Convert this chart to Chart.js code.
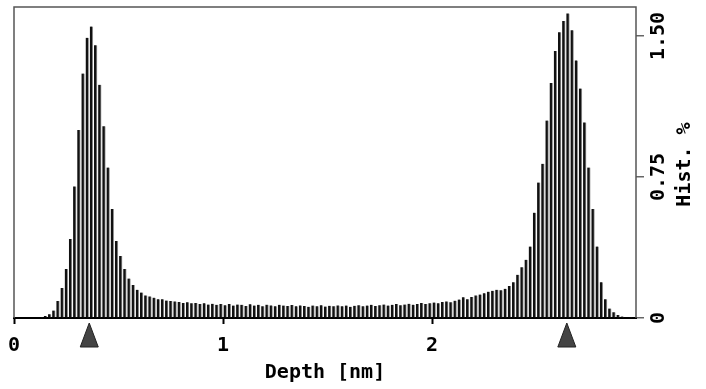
<!DOCTYPE html>
<html>
<head>
<meta charset="utf-8">
<script src="https://cdn.jsdelivr.net/npm/chart.js@4"></script>
<style>
  html, body { margin: 0; padding: 0; background: #fff; }
  #wrap { width: 706px; height: 389px; }
</style>
</head>
<body>
<div id="wrap"><canvas id="histChart" width="706" height="389"></canvas></div>
<script>
// Depth histogram, bins of 0.02 nm starting at 0.13 nm
const FIRST_BIN = 0.13;
const BIN_WIDTH = 0.02;
const histValues = [
  0.005, 0.01, 0.02, 0.04, 0.09, 0.16, 0.26, 0.42, 0.70, 1.00,
  1.30, 1.49, 1.55, 1.45, 1.24, 1.02, 0.80, 0.58, 0.41, 0.33,
  0.26, 0.21, 0.175, 0.15, 0.135, 0.12, 0.115, 0.108, 0.10, 0.10,
  0.093, 0.09, 0.088, 0.085, 0.08, 0.084, 0.078, 0.08, 0.075, 0.078,
  0.072, 0.076, 0.07, 0.074, 0.068, 0.075, 0.066, 0.072, 0.07, 0.064,
  0.073, 0.066, 0.07, 0.063, 0.071, 0.067, 0.062, 0.07, 0.066, 0.064,
  0.069, 0.062, 0.067, 0.064, 0.06, 0.066, 0.063, 0.068, 0.061, 0.065,
  0.062, 0.067, 0.063, 0.066, 0.06, 0.065, 0.068, 0.063, 0.066, 0.07,
  0.064, 0.068, 0.072, 0.066, 0.07, 0.074, 0.068, 0.072, 0.076, 0.071,
  0.075, 0.08, 0.074, 0.078, 0.082, 0.078, 0.085, 0.088, 0.084, 0.092,
  0.098, 0.11, 0.10, 0.112, 0.12, 0.125, 0.132, 0.14, 0.145, 0.15,
  0.148, 0.155, 0.17, 0.19, 0.23, 0.27, 0.31, 0.38, 0.56, 0.72,
  0.82, 1.05, 1.25, 1.42, 1.52, 1.58, 1.62, 1.53, 1.37, 1.22,
  1.04, 0.80, 0.58, 0.38, 0.19, 0.10, 0.05, 0.03, 0.016, 0.008,
  0.004, 0.002
];
const depthBins = histValues.map((_, i) => +(FIRST_BIN + i * BIN_WIDTH).toFixed(2));

const xTicks = [0, 1, 2];
const yTicks = [0, 0.75, 1.5];
const yTickLabels = ["0", "0.75", "1.50"];
const peakMarkers = [0.36, 2.645];

const X_MAX = 2.976;
const Y_MAX = 1.654;
const FONT = "'DejaVu Sans Mono', monospace";

// ── Frame, tick marks, rotated right-hand labels and peak triangles ─────

const decorPlugin = {
  id: "decor",
  beforeDatasetsDraw(chart) {
    const { ctx, chartArea: a } = chart;
    ctx.save();
    ctx.strokeStyle = "#555";
    ctx.lineWidth = 1.5;
    ctx.beginPath();
    ctx.moveTo(a.left, a.bottom);
    ctx.lineTo(a.left, a.top);
    ctx.lineTo(a.right, a.top);
    ctx.lineTo(a.right, a.bottom);
    ctx.stroke();
    ctx.restore();
  },
  afterDraw(chart) {
    const { ctx, chartArea: a } = chart;
    const xs = chart.scales.x, ys = chart.scales.y;
    ctx.save();

    // x tick marks
    ctx.strokeStyle = "#000";
    ctx.lineWidth = 2;
    xTicks.forEach(v => {
      const px = Math.round(xs.getPixelForValue(v)) + 0.5;
      ctx.beginPath();
      ctx.moveTo(px, a.bottom);
      ctx.lineTo(px, a.bottom + 6);
      ctx.stroke();
    });

    ctx.fillStyle = "#000";
    ctx.font = "bold 20px " + FONT;
    ctx.textAlign = "center";
    ctx.textBaseline = "middle";
    yTicks.forEach((v, i) => {
      ctx.save();
      ctx.translate(a.right + 23, ys.getPixelForValue(v));
      ctx.rotate(-Math.PI / 2);
      ctx.fillText(yTickLabels[i], 0, 0);
      ctx.restore();
    });
    ctx.save();
    ctx.translate(a.right + 49, (a.top + a.bottom) / 2 + 2);
    ctx.rotate(-Math.PI / 2);
    ctx.fillText("Hist. %", 0, 0);
    ctx.restore();

    // peak markers under the axis
    ctx.fillStyle = "#444";
    ctx.strokeStyle = "#222";
    ctx.lineWidth = 1;
    peakMarkers.forEach(d => {
      const px = xs.getPixelForValue(d);
      ctx.beginPath();
      ctx.moveTo(px, a.bottom + 5);
      ctx.lineTo(px + 9, a.bottom + 29);
      ctx.lineTo(px - 9, a.bottom + 29);
      ctx.closePath();
      ctx.fill();
      ctx.stroke();
    });
    ctx.restore();
  }
};

new Chart(document.getElementById("histChart"), {
  type: "bar",
  data: {
    datasets: [{
      data: depthBins.map((d, i) => ({ x: d, y: histValues[i] })),
      backgroundColor: "#111",
      borderColor: "#9a9a9a",
      borderWidth: { left: 0, right: 1, top: 0, bottom: 0 },
      borderSkipped: false,
      barThickness: 3,
    }]
  },
  options: {
    responsive: false,
    animation: false,
    layout: { padding: { left: 14, right: 60, top: 7, bottom: 0 } },
    plugins: { legend: { display: false }, tooltip: { enabled: false } },
    scales: {
      x: {
        type: "linear",
        min: 0,
        max: X_MAX,
        offset: false,
        afterBuildTicks: s => { s.ticks = xTicks.map(v => ({ value: v })); },
        afterFit: s => { s.height = 71; s.paddingLeft = 0; s.paddingRight = 0; },
        ticks: {
          color: "#000",
          font: { family: FONT, size: 20, weight: "bold" },
          padding: 10,
          maxRotation: 0,
          callback: v => String(v),
        },
        grid: { display: false, drawTicks: true, tickLength: 6 },
        border: { display: true, color: "#000", width: 2 },
        title: {
          display: true,
          text: "Depth [nm]",
          color: "#000",
          font: { family: FONT, size: 20, weight: "bold" },
          padding: { top: 1, bottom: 4 },
        },
      },
      y: {
        position: "right",
        min: 0,
        max: Y_MAX,
        afterBuildTicks: s => { s.ticks = yTicks.map(v => ({ value: v })); },
        afterFit: s => { s.width = 10; },
        ticks: { display: false },
        grid: { drawOnChartArea: false, drawTicks: true, tickLength: 8, color: "#666", lineWidth: 1.5 },
        border: { display: false },
      }
    }
  },
  plugins: [decorPlugin]
});
</script>
</body>
</html>
